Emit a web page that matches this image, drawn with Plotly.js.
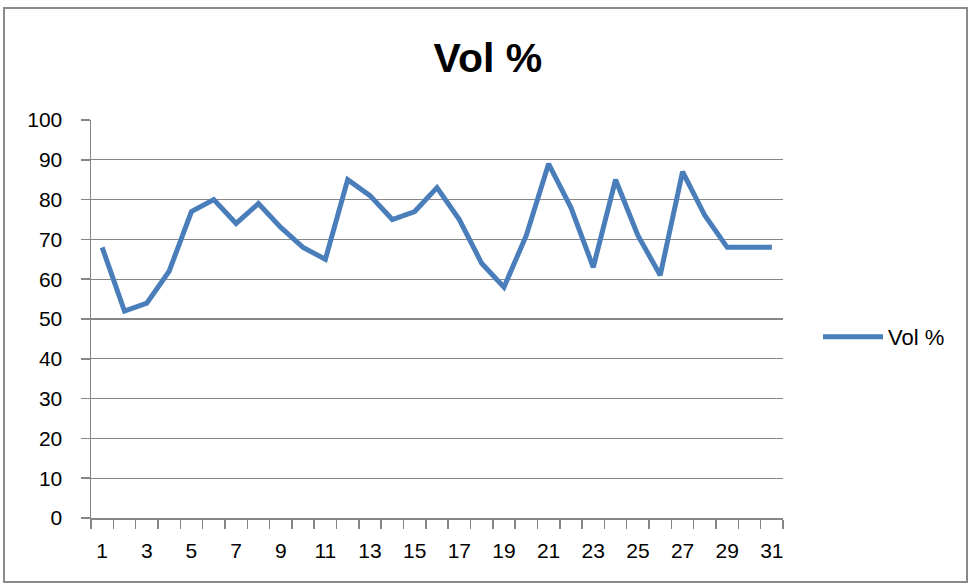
<!DOCTYPE html>
<html>
<head>
<meta charset="utf-8">
<script src="https://cdn.plot.ly/plotly-3.0.1.min.js"></script>
<style>html,body{margin:0;padding:0;background:#fff;}#chart{width:970px;height:584px;}</style>
</head>
<body>
<div id="chart"></div>
<script>
var days = [1,2,3,4,5,6,7,8,9,10,11,12,13,14,15,16,17,18,19,20,21,22,23,24,25,26,27,28,29,30,31];
var volPct = [68,52,54,62,77,80,74,79,73,68,65,85,81,75,77,83,75,64,58,71,89,78,63,85,71,61,87,76,68,68,68];
var seriesName = "Vol %";
var chartTitle = "Vol %";

var gray = "#868686";
var font = "Liberation Sans, Arial, sans-serif";

var trace = {
  x: days, y: volPct, type: "scatter", mode: "lines", name: seriesName,
  line: {color: "#4a7ebb", width: 5, shape: "linear"},
  hoverinfo: "x+y"
};

var layout = {
  width: 970, height: 584,
  margin: {l: 91, r: 187, t: 120, b: 66},
  paper_bgcolor: "#ffffff", plot_bgcolor: "#ffffff",
  showlegend: true,
  title: {text: chartTitle, font: {family: font, size: 41, color: "#000", weight: "bold"}, x: 0.503, xanchor: "center", y: 0.902, yanchor: "middle"},
  font: {family: font, size: 20, color: "#000"},
  xaxis: {
    range: [0.5, 31.5], tickmode: "linear", tick0: 1, dtick: 2,
    ticks: "", showgrid: false, zeroline: false,
    showline: true, linecolor: gray, linewidth: 1.5,
    tickfont: {family: font, size: 21, color: "#000"},
    ticklabelstandoff: 13,
    minor: {ticks: "outside", tick0: 0.5, dtick: 1, ticklen: 9, tickcolor: gray, tickwidth: 1.5, showgrid: false},
    fixedrange: true
  },
  yaxis: {
    range: [0, 100], tickmode: "linear", tick0: 0, dtick: 10,
    ticks: "outside", ticklen: 9, tickcolor: gray, tickwidth: 1.5,
    showgrid: true, gridcolor: gray, gridwidth: 1.2,
    zeroline: false, showline: true, linecolor: gray, linewidth: 1.5,
    tickfont: {family: font, size: 21, color: "#000"},
    ticklabelstandoff: 14,
    fixedrange: true
  },
  legend: {
    x: (818 - 91) / 692, xanchor: "left", y: (518 - 337) / 398, yanchor: "middle",
    font: {family: font, size: 22, color: "#000"},
    bgcolor: "rgba(0,0,0,0)", itemwidth: 60
  },
  shapes: [{
    type: "rect", xref: "paper", yref: "paper", layer: "below",
    x0: (4 - 91) / 692, x1: (967 - 91) / 692,
    y0: (518 - 582) / 398, y1: (518 - 8) / 398,
    line: {color: "#8a8a8a", width: 2}, fillcolor: "rgba(0,0,0,0)"
  }]
};

Plotly.newPlot("chart", [trace], layout, {displayModeBar: false, staticPlot: true});
</script>
</body>
</html>
